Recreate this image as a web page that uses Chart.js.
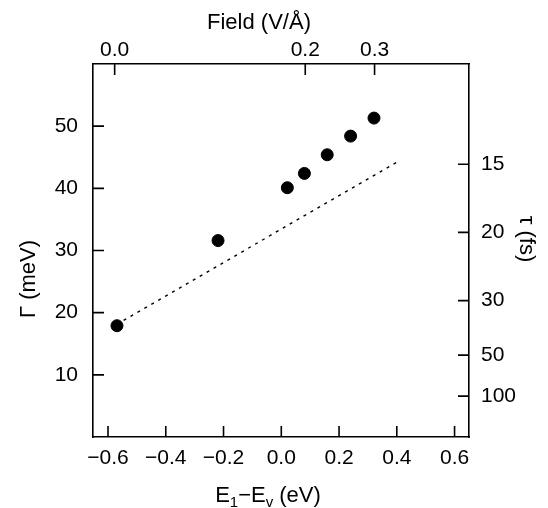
<!DOCTYPE html>
<html>
<head>
<meta charset="utf-8">
<script src="https://cdn.jsdelivr.net/npm/chart.js@4"></script>
<style>
  body { margin: 0; background: #fff; }
  #box { width: 548px; height: 508px; }
</style>
</head>
<body>
<div id="box"><canvas id="plot"></canvas></div>
<script>
// hbar in meV*fs, tau = HBAR / Gamma
const HBAR = 658.2;

// measured points: E1-Ev (eV) vs Gamma (meV)
const energy = [-0.569, -0.219, 0.021, 0.080, 0.159, 0.240, 0.321];
const gamma = [17.9, 31.6, 40.1, 42.4, 45.4, 48.4, 51.3];

// dotted reference line
const fitEnergy = [-0.57, 0.407];
const fitGamma = [18.1, 44.4];

const xTicks = [-0.6, -0.4, -0.2, 0, 0.2, 0.4, 0.6];
const xTickLabels = ['\u22120.6', '\u22120.4', '\u22120.2', '0.0', '0.2', '0.4', '0.6'];
const yTicks = [10, 20, 30, 40, 50];
const yTickLabels = ['10', '20', '30', '40', '50'];
// top axis: field (V/A) placed at the energy it corresponds to
const fieldTickEnergy = [-0.577, 0.083, 0.323];
const fieldTickLabels = ['0.0', '0.2', '0.3'];
// right axis: tau (fs)
const tauTicks = [15, 20, 30, 50, 100];
const tauTickLabels = ['15', '20', '30', '50', '100'];

const FONT = "'Liberation Sans', Arial, Helvetica, sans-serif";
const tickFont = { family: FONT, size: 21 };

window.addEventListener("load", () => {

    const inwardTicks = {
        id: 'inwardTicks',
        afterDraw(chart) {
            const ctx = chart.ctx;
            const a = chart.chartArea;
            const len = 11;
            ctx.save();
            ctx.strokeStyle = '#000';
            ctx.lineWidth = 1.6;
            ctx.beginPath();
            for (const id of ['x', 'x2', 'y', 'y2']) {
                const s = chart.scales[id];
                s.ticks.forEach(t => {
                    const p = s.getPixelForValue(t.value);
                    if (id === 'x') { ctx.moveTo(p, a.bottom); ctx.lineTo(p, a.bottom - len); }
                    if (id === 'x2') { ctx.moveTo(p, a.top); ctx.lineTo(p, a.top + len); }
                    if (id === 'y') { ctx.moveTo(a.left, p); ctx.lineTo(a.left + len, p); }
                    if (id === 'y2') { ctx.moveTo(a.right, p); ctx.lineTo(a.right - len, p); }
                });
            }
            ctx.stroke();
            ctx.restore();
        }
    };

    // axis titles (bottom one needs subscripts)
    const axisTitles = {
        id: 'axisTitles',
        afterDraw(chart) {
            const ctx = chart.ctx;
            const a = chart.chartArea;
            const cx = (a.left + a.right) / 2;
            const big = '22px ' + FONT;
            const small = '15px ' + FONT;
            ctx.save();
            ctx.fillStyle = '#000';
            ctx.textBaseline = 'alphabetic';

            // top
            ctx.font = big;
            ctx.textAlign = 'center';
            ctx.fillText('Field (V/\u00c5)', cx - 22, 29);

            // bottom: E1-Ev (eV)
            const parts = [['E', big, 0], ['1', small, 5], ['\u2212E', big, 0], ['v', small, 5], [' (eV)', big, 0]];
            let w = 0;
            parts.forEach(p => { ctx.font = p[1]; w += ctx.measureText(p[0]).width; });
            let x = cx - 13 - w / 2;
            ctx.textAlign = 'left';
            parts.forEach(p => {
                ctx.font = p[1];
                ctx.fillText(p[0], x, 502 + p[2]);
                x += ctx.measureText(p[0]).width;
            });

            // left
            ctx.font = big;
            ctx.textAlign = 'center';
            ctx.save();
            ctx.translate(35, a.top + 215);
            ctx.rotate(-Math.PI / 2);
            ctx.fillText('\u0393 (meV)', 0, 0);
            ctx.restore();

            // right
            ctx.save();
            ctx.translate(520, a.top + 175);
            ctx.rotate(Math.PI / 2);
            ctx.fillText('\u03c4 (fs)', 0, 0);
            ctx.restore();

            ctx.restore();
        }
    };

    const box = { display: true, color: '#000', width: 1.6 };
    const noGrid = { drawOnChartArea: false, drawTicks: false };

    const ctx = document.querySelector('#plot').getContext('2d');

    const grafico = new Chart(ctx, {
        type: 'scatter',
        data: {
            datasets: [{
                label: 'fit',
                data: fitEnergy.map((e, i) => ({ x: e, y: fitGamma[i] })),
                showLine: true,
                borderColor: '#000',
                borderWidth: 1.4,
                borderDash: [3, 5],
                pointRadius: 0,
                xAxisID: 'x',
                yAxisID: 'y'
            }, {
                label: 'Gamma',
                data: energy.map((e, i) => ({ x: e, y: gamma[i] })),
                backgroundColor: '#000',
                borderColor: '#000',
                pointRadius: 6,
                pointBorderWidth: 1,
                xAxisID: 'x',
                yAxisID: 'y'
            }]
        },
        options: {
            responsive: true,
            maintainAspectRatio: false,
            animation: false,
            layout: { padding: 0 },
            plugins: { legend: { display: false }, tooltip: { enabled: false } },
            scales: {
                x: {
                    type: 'linear', position: 'bottom', min: -0.652, max: 0.65,
                    afterBuildTicks: s => { s.ticks = xTicks.map(v => ({ value: v })); },
                    afterFit: s => { s.height = 71; },
                    ticks: { autoSkip: false, maxRotation: 0, padding: 9, color: '#000', font: tickFont,
                        callback: (v, i) => xTickLabels[i] },
                    grid: noGrid, border: box
                },
                x2: {
                    type: 'linear', position: 'top', min: -0.652, max: 0.65,
                    afterBuildTicks: s => { s.ticks = fieldTickEnergy.map(v => ({ value: v })); },
                    afterFit: s => { s.height = 64; },
                    ticks: { autoSkip: false, maxRotation: 0, padding: 1, color: '#000', font: tickFont,
                        callback: (v, i) => fieldTickLabels[i] },
                    grid: noGrid, border: box
                },
                y: {
                    type: 'linear', position: 'left', min: 0, max: 60,
                    afterBuildTicks: s => { s.ticks = yTicks.map(v => ({ value: v })); },
                    afterFit: s => { s.width = 93; },
                    ticks: { autoSkip: false, padding: 15, color: '#000', font: tickFont,
                        callback: (v, i) => yTickLabels[i] },
                    grid: noGrid, border: box
                },
                y2: {
                    type: 'linear', position: 'right', min: 0, max: 60,
                    afterBuildTicks: s => { s.ticks = tauTicks.map(t => ({ value: HBAR / t })); },
                    afterFit: s => { s.width = 79; },
                    ticks: { autoSkip: false, padding: 12, color: '#000', font: tickFont,
                        callback: (v, i) => tauTickLabels[i] },
                    grid: noGrid, border: box
                }
            }
        },
        plugins: [inwardTicks, axisTitles]
    });
})
</script>
</body>
</html>
